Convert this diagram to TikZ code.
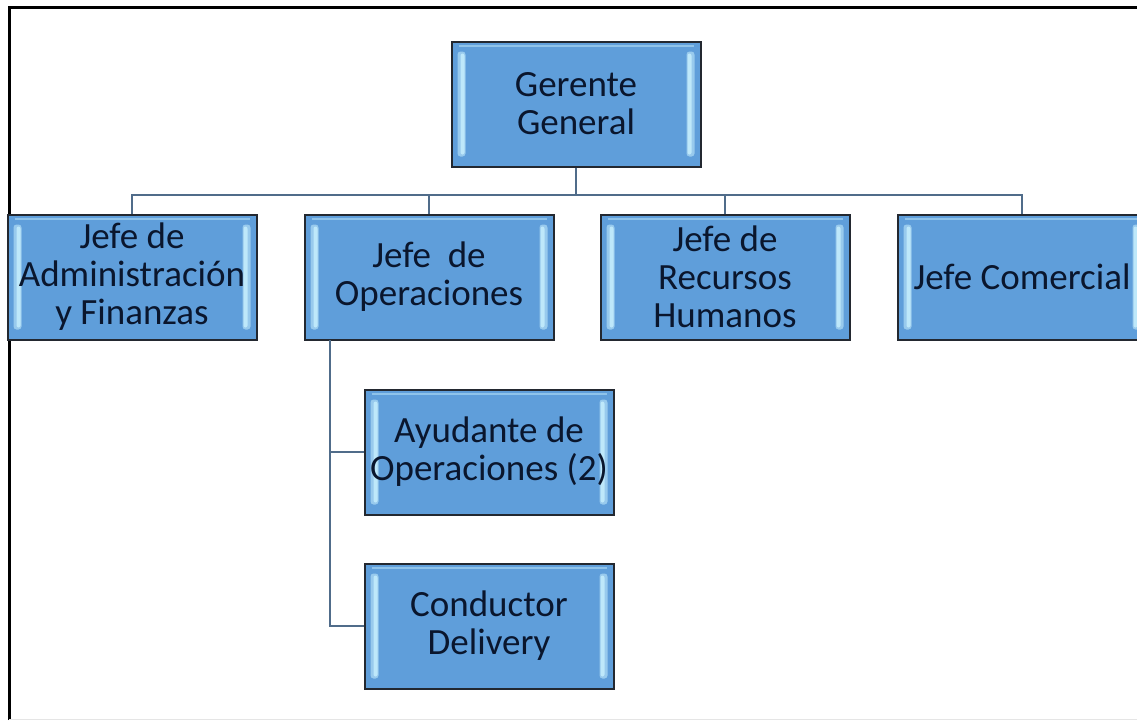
\documentclass[tikz,border=0pt]{standalone}
\usepackage{fontspec}
\setmainfont{Carlito}
\usepackage{tikz}
\usetikzlibrary{calc,positioning}
\definecolor{boxblue}{RGB}{95,158,218}
\definecolor{boxedge}{RGB}{35,40,48}
\definecolor{glow}{RGB}{190,232,250}
\definecolor{linkcol}{RGB}{80,108,138}
\definecolor{txtcol}{RGB}{10,22,45}
\tikzset{
  cargo/.style={draw=boxedge, line width=1pt, fill=boxblue, text=txtcol,
    minimum width=124.5pt, minimum height=62.5pt, inner sep=0pt, align=center,
    font=\fontsize{18.5}{19}\selectfont,
    path picture={
      \fill[glow!60!boxblue, rounded corners=1.5pt]
        ($(path picture bounding box.south west)+(3pt,5pt)$) rectangle
        ($(path picture bounding box.north west)+(7pt,-5pt)$);
      \fill[glow, rounded corners=1pt]
        ($(path picture bounding box.south west)+(4.5pt,6pt)$) rectangle
        ($(path picture bounding box.north west)+(6.5pt,-6pt)$);
      \fill[glow!60!boxblue, rounded corners=1.5pt]
        ($(path picture bounding box.south east)+(-7pt,5pt)$) rectangle
        ($(path picture bounding box.north east)+(-3pt,-5pt)$);
      \fill[glow, rounded corners=1pt]
        ($(path picture bounding box.south east)+(-6.5pt,6pt)$) rectangle
        ($(path picture bounding box.north east)+(-4.5pt,-6pt)$);
      \draw[glow!50!boxblue, line width=1pt]
        ($(path picture bounding box.north west)+(3.5pt,-2pt)$) --
        ($(path picture bounding box.north east)+(-3.5pt,-2pt)$);
    }},
  link/.style={draw=linkcol, line width=1pt}
}
\begin{document}
\begin{tikzpicture}[x=0.5pt, y=-0.5pt]
        \useasboundingbox (0,0) rectangle (1137,720);
        \draw[black, line width=1.5pt] (9,720) -- (9,7) -- (1137,7);
        \draw[black!10, line width=0.5pt] (9,719) -- (1137,719);
        \coordinate (bus) at (576,195);
        \coordinate (opsx) at (330,340);
        \node[cargo] (gerente) at (576,104) {Gerente\\General};
        \node[cargo] (admin) at (132,277) {Jefe de\\Administración\\y Finanzas};
        \node[cargo] (oper) at (429,277) {Jefe~~de\\Operaciones};
        \node[cargo] (rrhh) at (725,277) {Jefe de\\Recursos\\Humanos};
        \node[cargo] (comercial) at (1022,277) {Jefe Comercial};
        \node[cargo] (ayudante) at (489,452) {Ayudante de\\Operaciones (2)};
        \node[cargo] (conductor) at (489,626) {Conductor\\Delivery};
        \draw[link] (gerente.south) -- (gerente.south |- bus);
        \draw[link] (admin.north) |- (bus) -| (comercial.north);
        \draw[link] (oper.north) -- (oper.north |- bus);
        \draw[link] (rrhh.north) -- (rrhh.north |- bus);
        \draw[link] (opsx) |- (ayudante.west);
        \draw[link] (opsx) |- (conductor.west);
\end{tikzpicture}
\end{document}
